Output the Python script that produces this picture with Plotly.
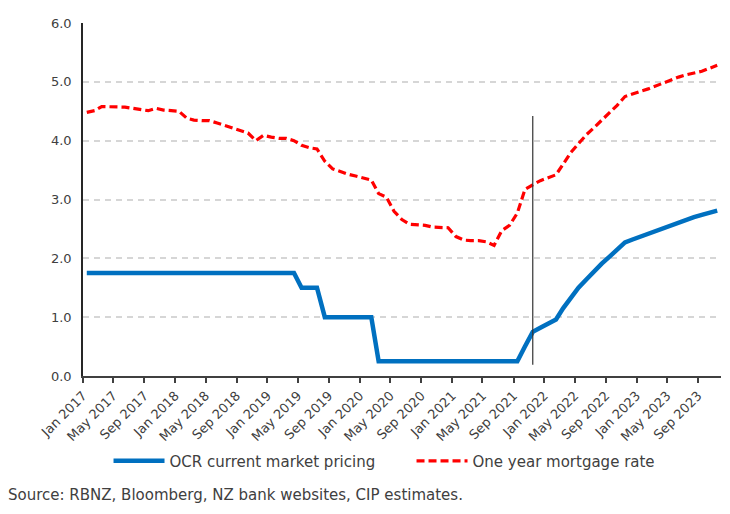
import pandas as pd
import plotly.graph_objects as go

# Monthly categories Jan 2017 .. Nov 2023 (points plotted mid-month)
months = pd.date_range("2017-01-01", "2023-11-01", freq="MS") + pd.Timedelta(days=15)

ocr = [1.75] * 28 + [1.50] * 3 + [1.00] * 7 + [0.25] * 19 + [
    0.50, 0.75, 0.82, 0.88, 0.96, 1.15, 1.33, 1.50, 1.64, 1.78, 1.91, 2.03,
    2.16, 2.27, 2.32, 2.37, 2.42, 2.47, 2.52, 2.56, 2.60, 2.65, 2.70, 2.74,
    2.78, 2.81,
]

mortgage = [
    4.48, 4.51, 4.58, 4.58, 4.58, 4.57, 4.55, 4.53, 4.51, 4.55, 4.52, 4.51,
    4.50, 4.38, 4.35, 4.34, 4.34, 4.30, 4.26, 4.22, 4.17, 4.13, 4.00, 4.09,
    4.06, 4.04, 4.04, 4.00, 3.92, 3.88, 3.86, 3.65, 3.52, 3.47, 3.43, 3.40,
    3.37, 3.33, 3.10, 3.04, 2.80, 2.66, 2.58, 2.57, 2.56, 2.53, 2.53, 2.52,
    2.37, 2.31, 2.30, 2.30, 2.28, 2.22, 2.47, 2.56, 2.77, 3.17, 3.25, 3.32,
    3.37, 3.42, 3.60, 3.80, 3.95, 4.10, 4.22, 4.35, 4.47, 4.60, 4.75, 4.80,
    4.84, 4.88, 4.93, 4.98, 5.03, 5.08, 5.12, 5.15, 5.18, 5.23, 5.28,
]

marker_date = "2021-11-16"
marker_low, marker_high = 0.19, 4.42

source_text = "Source: RBNZ, Bloomberg, NZ bank websites, CIP estimates."

fig = go.Figure()
fig.add_trace(go.Scatter(
    x=months, y=ocr, mode="lines", name="OCR current market pricing",
    line=dict(color="#0070C0", width=4.5),
))
fig.add_trace(go.Scatter(
    x=months, y=mortgage, mode="lines", name="One year mortgage rate",
    line=dict(color="#FF0000", width=3.2, dash="8px,4px"),
))

fig.add_shape(type="line", xref="x", yref="y",
              x0=marker_date, x1=marker_date, y0=marker_low, y1=marker_high,
              line=dict(color="#333333", width=1.2))

fig.add_annotation(text=source_text, xref="paper", yref="paper",
                   x=-0.1207, y=-0.337, xanchor="left", yanchor="middle",
                   showarrow=False,
                   font=dict(family="DejaVu Sans", size=15, color="#404040"))

fig.update_layout(
    width=730, height=514,
    margin=dict(l=83, r=9, t=23, b=138),
    paper_bgcolor="white", plot_bgcolor="white",
    font=dict(family="DejaVu Sans", size=13, color="#404040"),
    showlegend=True,
    legend=dict(orientation="h", x=0.04, xanchor="left", y=-0.241, yanchor="middle",
                itemwidth=51, entrywidth=237,
                font=dict(family="DejaVu Sans", size=15, color="#404040"),
                bgcolor="rgba(0,0,0,0)"),
)

fig.update_xaxes(
    type="date", range=["2017-01-01", "2023-12-01"],
    tick0="2017-01-01", dtick="M4", tickformat="%b %Y", tickangle=-45,
    showgrid=False, zeroline=False, automargin=False,
    showline=True, linecolor="#404040", linewidth=2,
    ticks="outside", ticklen=5, tickwidth=1.5, tickcolor="#404040",
    tickfont=dict(family="DejaVu Sans", size=13, color="#404040"),
)
fig.update_yaxes(
    range=[0, 6], dtick=1, tickformat=".1f", automargin=False,
    showgrid=True, gridcolor="#d6d6d6", gridwidth=1.5, griddash="6px,5px",
    zeroline=False, showline=True, linecolor="#262626", linewidth=1.5,
    ticks="", ticklabelstandoff=7,
    tickfont=dict(family="DejaVu Sans", size=13, color="#404040"),
)

fig.write_html("out.html", config={"displayModeBar": False},
               post_script="document.body.style.margin='0';")
